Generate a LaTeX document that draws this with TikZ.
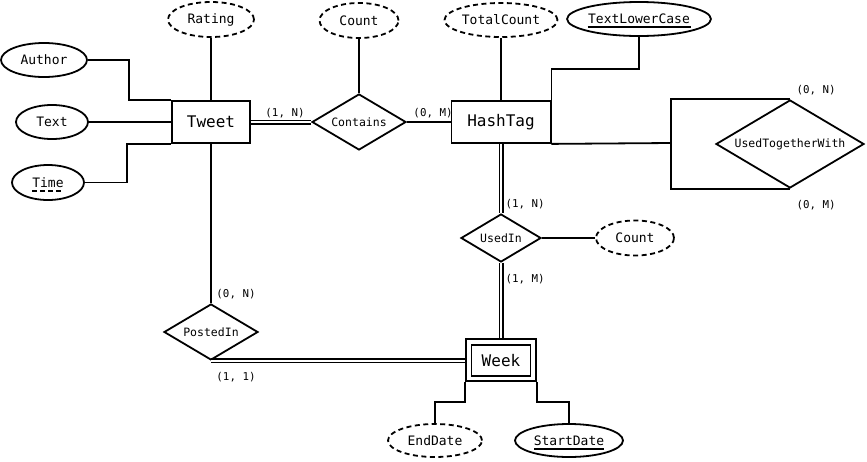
\documentclass[tikz,border=0pt]{standalone}
\usepackage{fontspec}
\setmonofont{DejaVu Sans Mono}
\usetikzlibrary{shapes.geometric}
\tikzset{
  ln/.style={line width=1.8pt},
  dbl/.style={line width=1.4pt, double, double distance=2.2pt},
  entity/.style={draw, line width=1.8pt, rectangle, inner sep=0pt, font=\ttfamily\fontsize{16}{18}\selectfont},
  attr/.style={draw, line width=1.8pt, ellipse, inner sep=0pt, font=\ttfamily\fontsize{13}{15}\selectfont},
  dattr/.style={attr, dash pattern=on 5pt off 3.5pt},
  rel/.style={draw, line width=1.8pt, diamond, inner sep=0pt, aspect=1.7, font=\ttfamily\fontsize{11.5}{13}\selectfont},
  card/.style={inner sep=0pt, font=\ttfamily\fontsize{10.8}{12}\selectfont}
}
\begin{document}
\begin{tikzpicture}[x=1pt,y=-1pt]
\useasboundingbox (0,0) rectangle (867,461);
% entities
\node[entity, minimum width=78pt, minimum height=42pt] (tweet) at (211,122) {Tweet};
\node[entity, minimum width=99pt, minimum height=42pt] (hashtag) at (501,122) {HashTag};
\node[draw, line width=1.8pt, rectangle, minimum width=70pt, minimum height=42pt, inner sep=0pt] (week) at (501,360) {};
\node[entity, minimum width=59pt, minimum height=31pt] (weekin) at (501,360.5) {Week};
% relationships
\node[rel, minimum width=94pt, minimum height=56pt] (contains) at (359,122) {Contains};
\node[rel, minimum width=148pt, minimum height=88pt] (utw) at (790,144) {UsedTogetherWith};
\node[rel, minimum width=80pt, minimum height=48pt] (usedin) at (501,238) {UsedIn};
\node[rel, minimum width=94pt, minimum height=56pt] (postedin) at (211,332) {PostedIn};
% attributes
\node[dattr, minimum width=86pt, minimum height=35pt] (rating) at (211,19.5) {Rating};
\node[dattr, minimum width=79pt, minimum height=35pt] (count1) at (359,20.5) {Count};
\node[dattr, minimum width=113pt, minimum height=34pt] (totalcount) at (501,20) {TotalCount};
\node[attr, minimum width=140pt, minimum height=34pt] (tlc) at (639,19) {TextLowerCase};
\node[attr, minimum width=86pt, minimum height=34pt] (author) at (44,60) {Author};
\node[attr, minimum width=72pt, minimum height=34pt] (text) at (52,122) {Text};
\node[attr, minimum width=72pt, minimum height=35pt] (time) at (48,182.5) {Time};
\node[dattr, minimum width=78pt, minimum height=35pt] (count2) at (635,238) {Count};
\node[dattr, minimum width=94pt, minimum height=33pt] (enddate) at (435,440.5) {EndDate};
\node[attr, minimum width=108pt, minimum height=33pt] (startdate) at (569,440.5) {StartDate};
% underlines
\draw[line width=1.6pt] ([xshift=-51.5pt,yshift=-3.5pt]tlc.base) -- ([xshift=51.5pt,yshift=-3.5pt]tlc.base);
\draw[line width=1.6pt] ([xshift=-35pt,yshift=-3.5pt]startdate.base) -- ([xshift=35pt,yshift=-3.5pt]startdate.base);
\draw[line width=1.6pt, dash pattern=on 5pt off 3pt] ([xshift=-15.6pt,yshift=-3.5pt]time.base) -- ([xshift=15.6pt,yshift=-3.5pt]time.base);
% connectors
\draw[ln] (author.east) -- (129,60) |- (tweet.north west);
\draw[ln] (text.east) -- (tweet.west);
\draw[ln] (time.east) -- (127,182.5) |- (tweet.south west);
\draw[ln] (rating.south) -- (tweet.north);
\draw[dbl] (tweet.east) -- (contains.west);
\draw[ln] (count1.south) -- (contains.north);
\draw[ln] (contains.east) -- (hashtag.west);
\draw[ln] (totalcount.south) -- (hashtag.north);
\draw[ln] (tlc.south) -- (639,69) -| (hashtag.south east);
\coordinate (j) at (671,143);
\draw[ln] (hashtag.south east) -- (j);
\draw[ln] (j) |- (utw.north);
\draw[ln] (j) |- (utw.south);
\draw[dbl] (hashtag.south) -- (usedin.north);
\draw[ln] (usedin.east) -- (count2.west);
\draw[dbl] (usedin.south) -- (week.north);
\draw[ln] (tweet.south) -- (postedin.north);
\draw[dbl] (postedin.south) -- (week.west |- postedin.south);
\draw[ln] (enddate.north) -- (435,402) -| (week.south west);
\draw[ln] (startdate.north) -- (569,402) -| (week.south east);
% cardinalities
\node[card] (c1) at (285,113) {(1, N)};
\node[card] (c2) at (433,113) {(0, M)};
\node[card] (c3) at (816,90) {(0, N)};
\node[card] (c4) at (816,205) {(0, M)};
\node[card] (c5) at (525,204) {(1, N)};
\node[card] (c6) at (525,279) {(1, M)};
\node[card] (c7) at (236,294) {(0, N)};
\node[card] (c8) at (236,377) {(1, 1)};
\end{tikzpicture}
\end{document}
